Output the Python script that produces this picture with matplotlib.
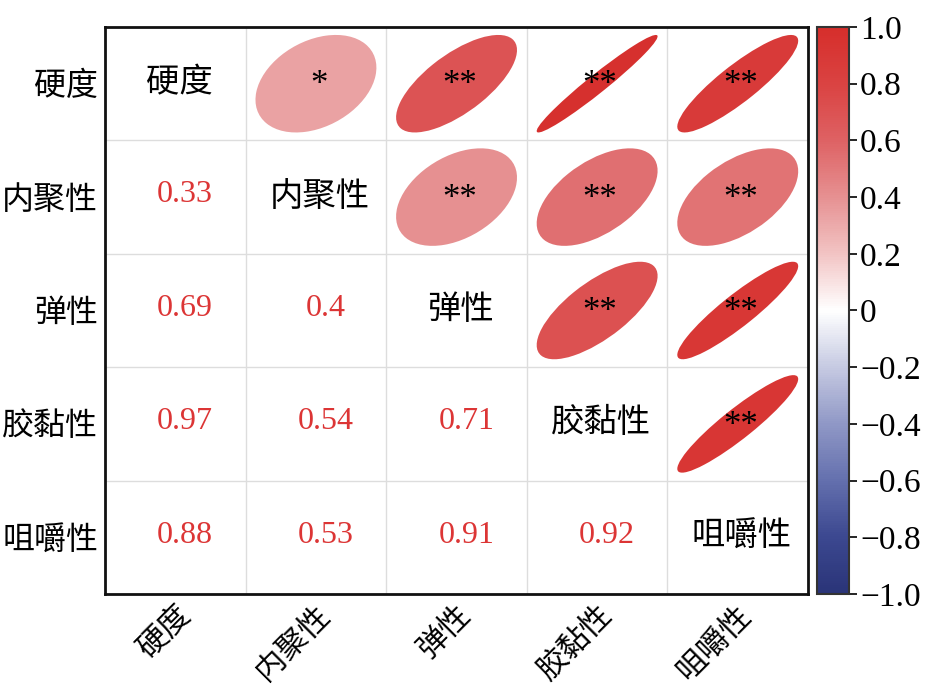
import numpy as np
import matplotlib
matplotlib.use('Agg')
import matplotlib.pyplot as plt
from matplotlib.patches import Ellipse
from matplotlib.colors import LinearSegmentedColormap, Normalize
from matplotlib.cm import ScalarMappable

plt.rcParams['font.family'] = ['Liberation Serif', 'Noto Sans CJK SC', 'DejaVu Sans']

# texture attributes
labels = ['硬度', '内聚性', '弹性', '胶黏性', '咀嚼性']

# pairwise correlations (lower triangle, row by row)
r_cohesive = [0.33]
r_spring = [0.69, 0.40]
r_gummy = [0.97, 0.54, 0.71]
r_chewy = [0.88, 0.53, 0.91, 0.92]

# significance marks for the upper triangle, keyed by (row, col)
stars = {(0, 1): '*', (0, 2): '**', (0, 3): '**', (0, 4): '**',
         (1, 2): '**', (1, 3): '**', (1, 4): '**',
         (2, 3): '**', (2, 4): '**',
         (3, 4): '**'}

cbar_ticks = [1.0, 0.8, 0.6, 0.4, 0.2, 0.0, -0.2, -0.4, -0.6, -0.8, -1.0]
cbar_labels = ['1.0', '0.8', '0.6', '0.4', '0.2', '0', '\u22120.2', '\u22120.4',
               '\u22120.6', '\u22120.8', '\u22121.0']

n = len(labels)
corr = np.eye(n)
for i, row in enumerate([r_cohesive, r_spring, r_gummy, r_chewy], start=1):
    for j, v in enumerate(row):
        corr[i, j] = v
        corr[j, i] = v

cmap = LinearSegmentedColormap.from_list('corr', [
    (0.0, '#2A3478'), (0.1, '#3C4890'), (0.2, '#6470AE'), (0.3, '#9098C6'),
    (0.4, '#C6CAE2'), (0.5, '#FFFFFF'), (0.6, '#F2C4C4'), (0.7, '#E69192'),
    (0.8, '#DE6264'), (0.9, '#DA4342'), (1.0, '#D62E2B')])
norm = Normalize(-1, 1)

fig = plt.figure(figsize=(9.32, 6.89), dpi=100)
ax = fig.add_axes([0.1127, 0.1379, 0.7543, 0.8229])
ax.set_xlim(0, n)
ax.set_ylim(0, n)

k = 0.43  # ellipse half extent in cell units
for i in range(n):
    y = n - 1 - i + 0.5
    for j in range(n):
        x = j + 0.5
        r = corr[i, j]
        if i == j:
            ax.text(x + 0.03, y + 0.0, labels[i], ha='center', va='center', fontsize=24)
        elif j > i:
            ax.add_patch(Ellipse((x, y), 2 * k * np.sqrt(1 + r), 2 * k * np.sqrt(1 - r),
                                 angle=45, facecolor=cmap(norm(r)), edgecolor='none', zorder=2))
            ax.text(x + 0.02, y - 0.02, stars[(i, j)], ha='center', va='center',
                    fontsize=25, zorder=3)
        else:
            ax.text(x + 0.07, y + 0.02, '{:g}'.format(round(r, 2)), ha='center', va='center',
                    fontsize=23, color='#DC3535')

# light cell grid
ax.set_xticks(np.arange(n + 1), minor=True)
ax.set_yticks(np.arange(n + 1), minor=True)
ax.grid(which='minor', color='#DDDDDD', linewidth=1, zorder=0)
ax.tick_params(which='both', length=0)

ax.set_xticks(np.arange(n) + 0.5)
ax.set_xticklabels(labels, fontsize=22, rotation=45, ha='right', va='top',
                   rotation_mode='anchor')
ax.set_yticks(np.arange(n) + 0.5)
ax.set_yticklabels(labels[::-1], fontsize=23)
ax.tick_params(axis='x', pad=5)
ax.tick_params(axis='y', pad=5)
for sp in ax.spines.values():
    sp.set_linewidth(2)
    sp.set_color('#111111')

cax = fig.add_axes([0.8766, 0.1379, 0.0343, 0.8229])
cb = fig.colorbar(ScalarMappable(norm=norm, cmap=cmap), cax=cax)
cb.set_ticks(cbar_ticks)
cb.set_ticklabels(cbar_labels)
cb.ax.tick_params(labelsize=24, length=6, width=1.2, pad=2)
cb.outline.set_linewidth(1.5)
cb.outline.set_edgecolor('#333333')

fig.savefig('out.png', dpi=100)
